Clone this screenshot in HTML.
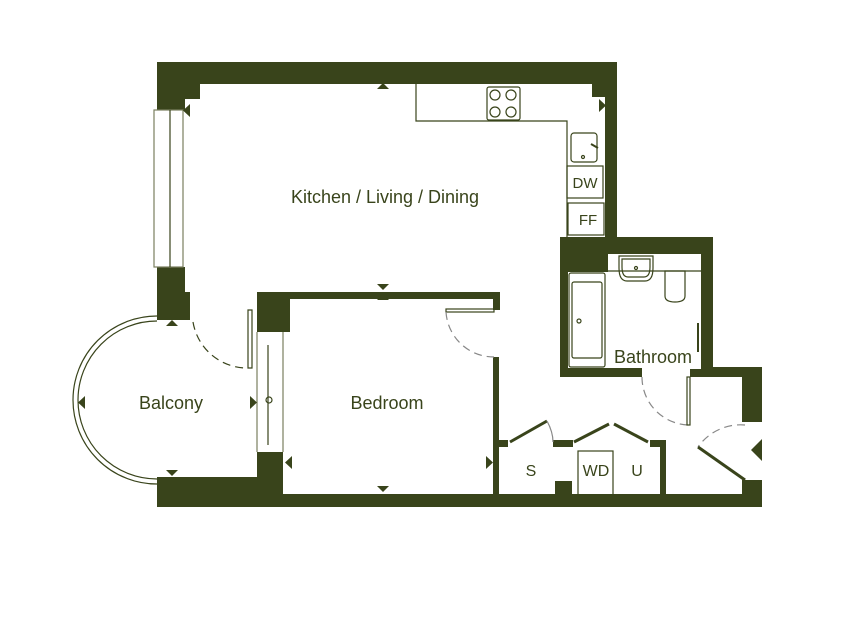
<!DOCTYPE html>
<html><head><meta charset="utf-8"><style>
html,body{margin:0;padding:0;background:#fff;width:857px;height:623px;overflow:hidden}
text{font-family:"Liberation Sans",sans-serif;fill:#39441b}
</style></head><body>
<svg width="857" height="623" viewBox="0 0 857 623" xmlns="http://www.w3.org/2000/svg">
<g fill="#39441b" stroke="none">
<rect x="157" y="62" width="460" height="22"/>
<rect x="157" y="84" width="43" height="15"/>
<rect x="157" y="99" width="28" height="11"/>
<rect x="592" y="84" width="25" height="13"/>
<rect x="605" y="84" width="12" height="155"/>
<rect x="157" y="267" width="28" height="53"/>
<rect x="185" y="292" width="5" height="28"/>
<rect x="157" y="477" width="100" height="30"/>
<rect x="257" y="452" width="26" height="55"/>
<rect x="257" y="494" width="505" height="13"/>
<rect x="257" y="292" width="243" height="7"/>
<rect x="257" y="292" width="33" height="40"/>
<rect x="493" y="292" width="7" height="18"/>
<rect x="493" y="357" width="6" height="138"/>
<path d="M560 237H713V367H762V377H742V422H762V377H713V377H690V369H701V254H608V272H568V368H642V377H560Z" fill-rule="evenodd"/>
<rect x="560" y="369" width="82" height="8"/>
<rect x="690" y="369" width="23" height="8"/>
<rect x="742" y="367" width="20" height="55"/>
<rect x="742" y="480" width="20" height="27"/>
<rect x="498" y="440" width="10" height="7"/>
<rect x="553" y="440" width="20" height="7"/>
<rect x="650" y="440" width="16" height="7"/>
<rect x="660" y="440" width="6" height="55"/>
<rect x="555" y="481" width="17" height="14"/>
</g>
<g fill="none" stroke="#39441b" stroke-width="1.2">
<path d="M416 84V121H567V237"/>
<rect x="487" y="87" width="33" height="33" rx="2"/>
<circle cx="495" cy="95" r="5"/><circle cx="511" cy="95" r="5"/>
<circle cx="495" cy="112" r="5"/><circle cx="511" cy="112" r="5"/>
<rect x="571" y="133" width="26" height="29" rx="3"/>
<circle cx="583" cy="157" r="1.5"/>
<line x1="591" y1="144" x2="598" y2="148" stroke-width="2"/>
<rect x="567" y="166" width="36" height="32"/>
<rect x="568" y="203" width="36" height="32"/>
<rect x="154" y="110" width="29" height="157" stroke="#7a7f5f"/>
<line x1="170" y1="110" x2="170" y2="267"/>
<path d="M157 316A84 84 0 0 0 157 484"/>
<path d="M157 321A79 79 0 0 0 157 479"/>
<path d="M193 322A55 55 0 0 0 248 368" stroke-dasharray="8 5"/>
<path d="M248 368V310H252V368Z"/>
<line x1="257" y1="332" x2="257" y2="452" stroke="#7a7f5f"/>
<line x1="283" y1="332" x2="283" y2="452" stroke="#7a7f5f"/>
<line x1="268" y1="345" x2="268" y2="445"/>
<circle cx="269" cy="400" r="3"/>
<rect x="446" y="309" width="48" height="3"/>
<path d="M446 312A48 48 0 0 0 494 357" stroke-dasharray="8 5" stroke="#888"/>
<rect x="569" y="273" width="36" height="94" rx="2"/>
<rect x="572" y="282" width="30" height="76" rx="2"/>
<circle cx="579" cy="321" r="2"/>
<path d="M619 256H653V268Q653 281 645 281H627Q619 281 619 268Z"/>
<path d="M622 259H650V267Q650 277 644 277H628Q622 277 622 267Z"/>
<circle cx="636" cy="268" r="1.5"/>
<line x1="608" y1="271" x2="701" y2="271"/>
<path d="M665 271H685V296Q685 302 675 302Q665 302 665 296Z"/>
<line x1="698" y1="323" x2="698" y2="352" stroke-width="2"/>
<path d="M642 377A48 48 0 0 0 688 425" stroke-dasharray="8 5" stroke="#888"/>
<rect x="687" y="377" width="3" height="48"/>
<path d="M745 425A52 52 0 0 0 698 447" stroke-dasharray="8 5" stroke="#888"/>
<path d="M698 447L745 480" stroke-width="3"/>
<path d="M510 442L547 421" stroke-width="3"/>
<path d="M574 442L609 424" stroke-width="3"/>
<path d="M614 424L648 442" stroke-width="3"/>
<path d="M547 421Q553 432 553 442" stroke="#888"/>
<rect x="578" y="451" width="35" height="44"/>
</g>
<g fill="#39441b">
<path d="M377 89h12l-6-6z"/>
<path d="M377 284h12l-6 6z"/>
<path d="M377 300h12l-6-6z"/>
<path d="M190 104v13l-7-6.5z"/>
<path d="M599 99v13l7-6.5z"/>
<path d="M166 326h12l-6-6z"/>
<path d="M166 470h12l-6 6z"/>
<path d="M85 396v13l-7-6.5z"/>
<path d="M250 396v13l7-6.5z"/>
<path d="M292 456v13l-7-6.5z"/>
<path d="M486 456v13l7-6.5z"/>
<path d="M377 486h12l-6 6z"/>
<path d="M762 439v22l-11-11z"/>
</g>
<text x="385" y="203" font-size="18" text-anchor="middle">Kitchen / Living / Dining</text>
<text x="171" y="409" font-size="18" text-anchor="middle">Balcony</text>
<text x="387" y="409" font-size="18" text-anchor="middle">Bedroom</text>
<text x="653" y="363" font-size="18" text-anchor="middle">Bathroom</text>
<text x="585" y="188" font-size="15" text-anchor="middle">DW</text>
<text x="588" y="225" font-size="15" text-anchor="middle">FF</text>
<text x="531" y="476" font-size="16" text-anchor="middle">S</text>
<text x="596" y="476" font-size="16" text-anchor="middle">WD</text>
<text x="637" y="476" font-size="16" text-anchor="middle">U</text>
</svg>
</body></html>
